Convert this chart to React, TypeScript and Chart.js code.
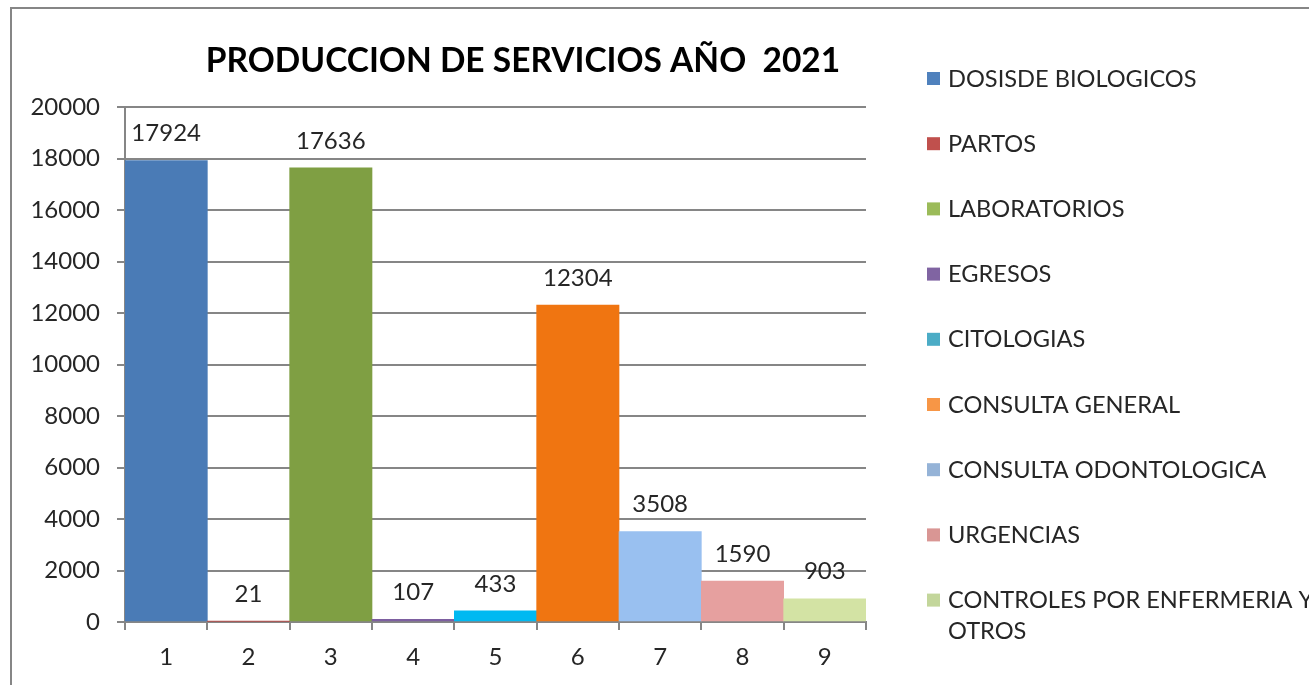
import React, { useEffect, useRef } from "react";
import { Chart, registerables } from "chart.js";

Chart.register(...registerables);

const categories = ["1", "2", "3", "4", "5", "6", "7", "8", "9"];
const values = [17924, 21, 17636, 107, 433, 12304, 3508, 1590, 903];
const seriesNames = [
  "DOSISDE BIOLOGICOS",
  "PARTOS",
  "LABORATORIOS",
  "EGRESOS",
  "CITOLOGIAS",
  "CONSULTA GENERAL",
  "CONSULTA ODONTOLOGICA",
  "URGENCIAS",
  "CONTROLES POR ENFERMERIA Y OTROS",
];
const barColors = ["#4A7BB6", "#B54B48", "#7F9F43", "#7D5FA0", "#00B9F1", "#F07511", "#99C0F0", "#E6A09F", "#D3E3A4"];
const legendColors = ["#4F81BD", "#C0504D", "#9BBB59", "#8064A2", "#4BACC6", "#F79646", "#95B3D7", "#D99694", "#C3D69B"];
const titleText = "PRODUCCION DE SERVICIOS AÑO  2021";

const FONT = "Lato, 'Open Sans', sans-serif";
const GRID = "#868686";
const TEXT = "#262626";

const decorPlugin = {
  id: "decor",
  beforeDraw(chart: any) {
    const ctx = chart.ctx;
    ctx.save();
    ctx.fillStyle = "#ffffff";
    ctx.fillRect(0, 0, chart.width, chart.height);
    ctx.strokeStyle = GRID;
    ctx.lineWidth = 2;
    ctx.beginPath();
    ctx.moveTo(11, chart.height);
    ctx.lineTo(11, 8);
    ctx.lineTo(chart.width, 8);
    ctx.stroke();
    ctx.restore();
  },
  afterDatasetsDraw(chart: any) {
    const ctx = chart.ctx;
    const meta = chart.getDatasetMeta(0);
    ctx.save();
    ctx.font = `24px ${FONT}`;
    ctx.fillStyle = TEXT;
    ctx.textAlign = "center";
    ctx.textBaseline = "middle";
    meta.data.forEach((bar: any, i: number) => {
      ctx.fillText(String(values[i]), bar.x, bar.y - 27);
    });
    ctx.restore();
  },
  afterDraw(chart: any) {
    const ctx = chart.ctx;
    ctx.save();
    // title
    ctx.font = `bold 33.5px ${FONT}`;
    ctx.fillStyle = "#000000";
    ctx.textAlign = "center";
    ctx.textBaseline = "middle";
    ctx.fillText(titleText, 523, 61);
    // legend
    ctx.font = `23.6px ${FONT}`;
    ctx.textAlign = "left";
    const maxW = 392;
    seriesNames.forEach((name, i) => {
      const y = 79 + i * 65.2;
      ctx.fillStyle = legendColors[i];
      ctx.fillRect(927, y - 7, 13, 13);
      ctx.fillStyle = TEXT;
      const words = name.split(" ");
      const lines: string[] = [];
      let cur = "";
      words.forEach((w) => {
        const t = cur ? cur + " " + w : w;
        if (ctx.measureText(t).width > maxW && cur) {
          lines.push(cur);
          cur = w;
        } else cur = t;
      });
      lines.push(cur);
      lines.forEach((ln, j) => ctx.fillText(ln, 948, y + j * 31));
    });
    ctx.restore();
  },
};

export default function App() {
  const ref = useRef<HTMLCanvasElement>(null);
  useEffect(() => {
    document.body.style.margin = "0";
    const chart = new Chart(ref.current!, {
      type: "bar",
      data: {
        labels: categories,
        datasets: [
          {
            data: values,
            backgroundColor: barColors,
            borderWidth: 0,
            barPercentage: 1,
            categoryPercentage: 1,
          },
        ],
      },
      options: {
        animation: false,
        responsive: false,
        layout: { padding: { left: 0, right: 443, top: 107, bottom: 0 } },
        plugins: { legend: { display: false }, title: { display: false }, tooltip: { enabled: false } },
        scales: {
          x: {
            afterFit: (s: any) => {
              s.height = 63;
            },
            grid: { display: true, drawOnChartArea: false, offset: true, color: GRID, lineWidth: 2, tickLength: 8 },
            border: { display: true, color: GRID, width: 2 },
            ticks: { color: TEXT, font: { family: FONT, size: 24 }, padding: 13 },
          },
          y: {
            min: 0,
            max: 20000,
            afterFit: (s: any) => {
              s.width = 125;
            },
            grid: { color: GRID, lineWidth: 2, tickLength: 8 },
            border: { display: true, color: GRID, width: 2 },
            ticks: {
              stepSize: 2000,
              color: TEXT,
              font: { family: FONT, size: 24 },
              padding: 17,
              callback: (v: any) => String(v),
            },
          },
        },
      },
      plugins: [decorPlugin],
    });
    return () => chart.destroy();
  }, []);
  return <canvas ref={ref} width={1309} height={685} style={{ display: "block" }} />;
}
